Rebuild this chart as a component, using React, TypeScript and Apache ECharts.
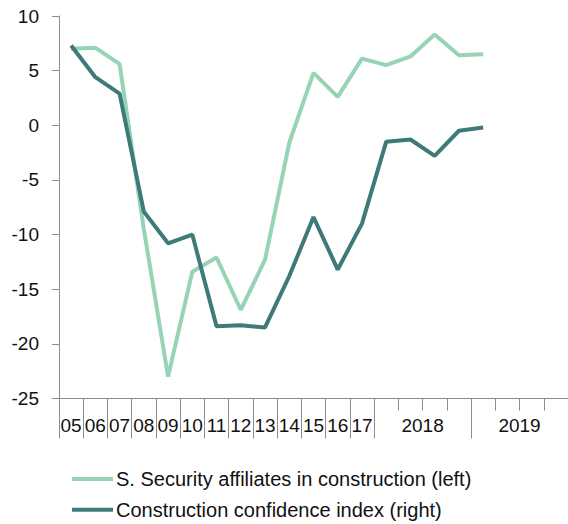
import React, { useEffect, useRef } from "react";
import * as echarts from "echarts";

// Data slots on the horizontal axis: annual 05..17, then quarters of 2018 and 2019
const periods = [
  "05", "06", "07", "08", "09", "10", "11", "12", "13", "14", "15", "16", "17",
  "2018 Q1", "2018 Q2", "2018 Q3", "2018 Q4",
  "2019 Q1", "2019 Q2", "2019 Q3", "2019 Q4",
];

// S. Security affiliates in construction (left)
const affiliates = [
  7.0, 7.1, 5.6, -9.5, -23.0, -13.4, -12.1, -16.9, -12.3, -1.6, 4.8, 2.6, 6.1,
  5.5, 6.3, 8.3, 6.4, 6.5,
];

// Construction confidence index (right)
const confidence = [
  7.3, 4.4, 2.9, -7.9, -10.8, -10.0, -18.4, -18.3, -18.5, -13.8, -8.4, -13.2, -9.0,
  -1.5, -1.3, -2.8, -0.5, -0.2,
];

// Tick labels and how many slots each spans
const tickLabels = ["05", "06", "07", "08", "09", "10", "11", "12", "13", "14", "15", "16", "17", "2018", "2019"];
const tickSpans = [1, 1, 1, 1, 1, 1, 1, 1, 1, 1, 1, 1, 1, 4, 4];

const yMin = -25;
const yMax = 10;
const yStep = 5;

const seriesNames = [
  "S. Security affiliates in construction (left)",
  "Construction confidence index (right)",
];
const colors = ["#97D4B5", "#3F7A7B"];

export default function App() {
  const ref = useRef<HTMLDivElement>(null);

  useEffect(() => {
    if (!ref.current) return;
    const chart = echarts.init(ref.current, undefined, { renderer: "svg" });

    const boundaries: number[] = [0];
    const labelPos: number[] = [];
    tickSpans.forEach((s) => {
      const start = boundaries[boundaries.length - 1];
      labelPos.push(start + s / 2);
      boundaries.push(start + s);
    });
    const longTicks = boundaries;
    const shortTicks: number[] = [];
    tickSpans.forEach((s, i) => {
      if (s > 1) {
        for (let k = 1; k < s; k++) shortTicks.push(boundaries[i] + k);
      }
    });
    const total = boundaries[boundaries.length - 1];

    const font = "'Liberation Sans', Arial, sans-serif";
    const axisGray = "#8C8C8C";

    chart.setOption({
      animation: false,
      grid: { left: 59, top: 16, width: 510, height: 382.5, containLabel: false },
      legend: {
        orient: "vertical",
        left: 72,
        top: 469,
        padding: 0,
        itemWidth: 41,
        itemHeight: 4,
        itemGap: 10.7,
        icon: "rect",
        data: seriesNames,
        textStyle: { fontFamily: font, fontSize: 20, color: "#111", lineHeight: 20, padding: [0, 0, 0, -2] },
      },
      xAxis: [
        {
          type: "category",
          data: periods,
          boundaryGap: true,
          show: false,
        },
        {
          type: "value",
          min: 0,
          max: total,
          position: "bottom",
          axisLine: { show: true, onZero: false, lineStyle: { color: axisGray, width: 1 } },
          axisTick: {
            show: true,
            length: 40,
            customValues: longTicks,
            lineStyle: { color: axisGray, width: 1 },
          },
          axisLabel: {
            show: true,
            customValues: labelPos,
            margin: 17,
            fontFamily: font,
            fontSize: 19,
            color: "#111",
            formatter: (v: number) => {
              const idx = labelPos.findIndex((p) => Math.abs(p - v) < 1e-6);
              return idx >= 0 ? tickLabels[idx] : "";
            },
          },
          splitLine: { show: false },
        },
        {
          type: "value",
          min: 0,
          max: total,
          position: "bottom",
          axisLine: { show: false, onZero: false },
          axisTick: {
            show: true,
            length: 12,
            customValues: shortTicks,
            lineStyle: { color: axisGray, width: 1 },
          },
          axisLabel: { show: false },
          splitLine: { show: false },
        },
      ],
      yAxis: {
        type: "value",
        min: yMin,
        max: yMax,
        interval: yStep,
        axisLine: { show: true, lineStyle: { color: axisGray, width: 1 } },
        axisTick: { show: true, length: 7, lineStyle: { color: axisGray, width: 1 } },
        axisLabel: { margin: 20, fontFamily: font, fontSize: 19, color: "#111" },
        splitLine: { show: false },
      },
      series: [
        {
          name: seriesNames[0],
          type: "line",
          xAxisIndex: 0,
          data: affiliates,
          symbol: "none",
          lineStyle: { width: 4, color: colors[0] },
          itemStyle: { color: colors[0] },
        },
        {
          name: seriesNames[1],
          type: "line",
          xAxisIndex: 0,
          data: confidence,
          symbol: "none",
          lineStyle: { width: 4, color: colors[1] },
          itemStyle: { color: colors[1] },
        },
      ],
    });

    return () => chart.dispose();
  }, []);

  return (
    <div
      ref={ref}
      style={{ position: "fixed", left: 0, top: 0, width: 568, height: 524, background: "#fff" }}
    />
  );
}
